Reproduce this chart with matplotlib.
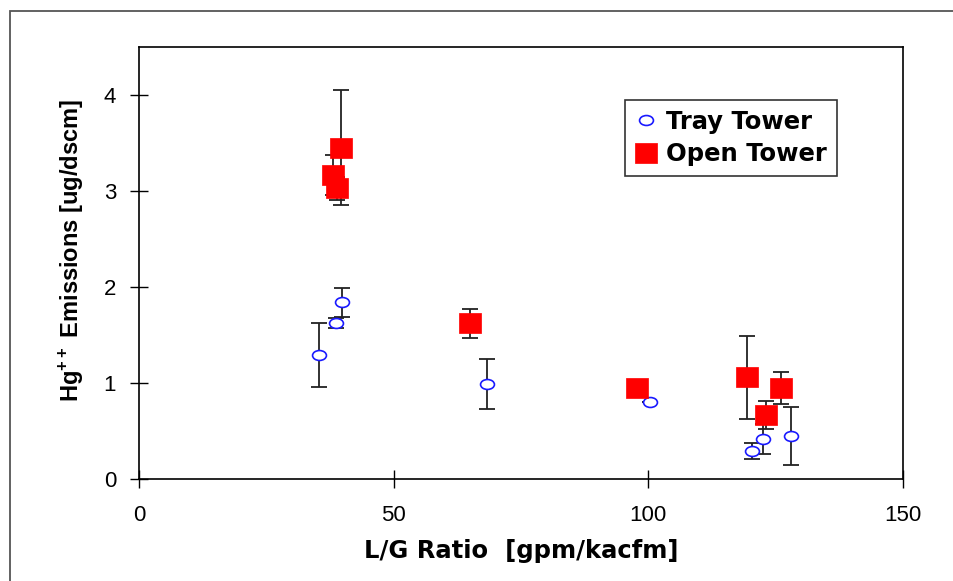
import matplotlib
matplotlib.use('Agg')
import matplotlib.pyplot as plt
from matplotlib.path import Path
from matplotlib.patches import Rectangle
from matplotlib.transforms import Affine2D

plt.rcParams['font.family'] = ['Liberation Sans', 'DejaVu Sans']
plt.rcParams['mathtext.fontset'] = 'custom'
plt.rcParams['mathtext.bf'] = 'Liberation Sans:bold'
plt.rcParams['mathtext.rm'] = 'Liberation Sans'

# tray tower points (hollow circles)
tray_x = [35.3, 38.7, 39.9, 68.3, 100.3, 120.4, 122.5, 128.0]
tray_y = [1.29, 1.625, 1.84, 0.985, 0.80, 0.29, 0.417, 0.45]
tray_err = [0.33, 0.05, 0.15, 0.26, 0.0, 0.08, 0.16, 0.305]

# open tower points (red squares)
open_x = [38.1, 38.8, 39.7, 65.0, 97.8, 119.4, 123.1, 126.1]
open_y = [3.17, 3.03, 3.45, 1.62, 0.95, 1.06, 0.667, 0.95]
open_err = [0.21, 0.12, 0.60, 0.15, 0.06, 0.43, 0.15, 0.165]

x_ticks = [0, 50, 100, 150]
y_ticks = [0, 1, 2, 3, 4]

# markers in the original are a bit stretched sideways
ellipse = Path.unit_circle().transformed(Affine2D().scale(1.4, 1.0))
box = Path([(-1.16, -1), (1.16, -1), (1.16, 1), (-1.16, 1), (-1.16, -1)], closed=True)

fig = plt.figure(figsize=(9.54, 5.81), dpi=100)
ax = fig.add_axes([139/954, 102/581, 764/954, 432/581])

ax.errorbar(open_x, open_y, yerr=open_err, fmt='none', ecolor='#222222',
            elinewidth=1.3, capsize=6, capthick=1.3, zorder=2)
ax.errorbar(tray_x, tray_y, yerr=tray_err, fmt='none', ecolor='#222222',
            elinewidth=1.3, capsize=6, capthick=1.3, zorder=2)

ax.plot(tray_x, tray_y, linestyle='none', marker=ellipse, markersize=10,
        markerfacecolor='white', markeredgecolor='#1a1aff', markeredgewidth=1.2,
        label='Tray Tower', zorder=3)
ax.plot(open_x, open_y, linestyle='none', marker=box, markersize=16,
        markerfacecolor='red', markeredgecolor='red', markeredgewidth=0.5,
        label='Open Tower', zorder=4)

ax.set_xlim(0, 150)
ax.set_ylim(0, 4.5)
ax.set_xticks(x_ticks)
ax.set_yticks(y_ticks)
ax.tick_params(direction='inout', length=13, width=1, labelsize=16)
ax.tick_params(axis='x', pad=12)
ax.tick_params(axis='y', pad=10)
for s in ax.spines.values():
    s.set_linewidth(1.2)
    s.set_color('black')

ax.set_xlabel('L/G Ratio  [gpm/kacfm]', fontsize=17.5, fontweight='bold',
              family='DejaVu Sans')
ax.xaxis.set_label_coords(0.5, -0.14)
ax.set_ylabel(r'Hg$^{\mathbf{++}}$ Emissions [ug/dscm]', fontsize=17,
              fontweight='bold')
ax.yaxis.set_label_coords(-0.07, 0.53)

leg = ax.legend(loc='upper left', bbox_to_anchor=(0.636, 0.877), borderaxespad=0,
                fancybox=False, frameon=True, edgecolor='black',
                prop={'weight': 'bold', 'size': 17.5, 'family': 'DejaVu Sans'},
                handletextpad=0.35, handlelength=0.95, labelspacing=0.35,
                borderpad=0.4)
leg.get_frame().set_linewidth(1.2)

# outer chart border (runs off the right and bottom edges)
fig.add_artist(Rectangle((10/954, -0.1), 1.1, (570/581) + 0.1, transform=fig.transFigure,
                         fill=False, edgecolor='#555555', linewidth=1.3))

fig.savefig('out.png', dpi=100)
